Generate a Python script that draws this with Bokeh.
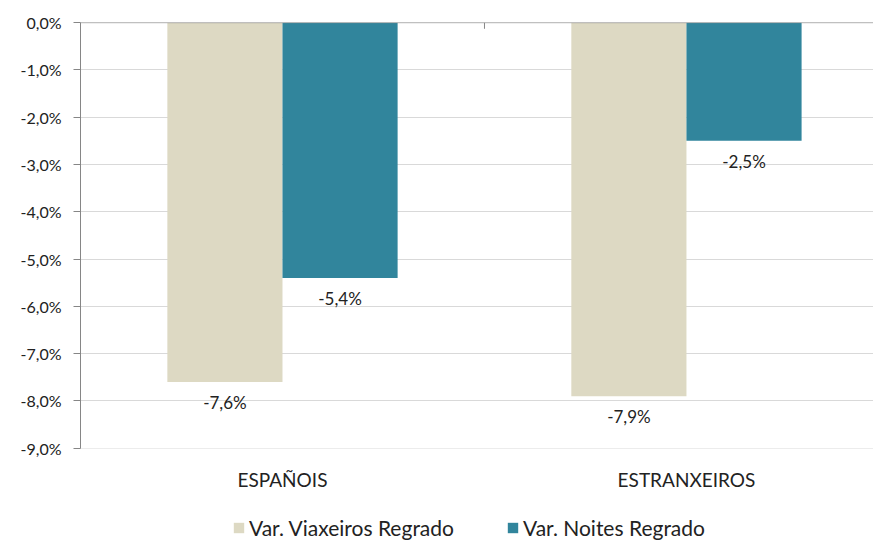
from bokeh.plotting import figure
from bokeh.layouts import column
from bokeh.models import (ColumnDataSource, Range1d, FixedTicker, Span,
                          Legend, LegendItem)
from bokeh.core.properties import value
from bokeh.embed import file_html
from bokeh.resources import INLINE

categories = ["ESPAÑOIS", "ESTRANXEIROS"]
series_names = ["Var. Viaxeiros Regrado", "Var. Noites Regrado"]
viaxeiros = [-7.6, -7.9]
noites = [-5.4, -2.5]
y_ticks = [0, -1, -2, -3, -4, -5, -6, -7, -8, -9]
colors = ["#DDD9C3", "#31859C"]

FONT = "Lato"
TXT = "#222222"
bar_w = 0.285

def fmt(v):
    return ("%.1f%%" % v).replace(".", ",")

centers = [i + 0.5 for i in range(len(categories))]

p = figure(width=873, height=505, output_backend="svg", toolbar_location=None,
           x_range=Range1d(0, 1.963), y_range=Range1d(-9.005, 0.003),
           min_border_left=80, min_border_right=0, min_border_top=22,
           min_border_bottom=57, outline_line_color=None)
p.background_fill_color = "white"
p.border_fill_color = "white"

# grid
p.xgrid.visible = False
p.ygrid.ticker = FixedTicker(ticks=y_ticks)
p.ygrid.grid_line_color = "#D9D9D9"
p.ygrid.grid_line_width = 1

for k, (vals, col) in enumerate(zip([viaxeiros, noites], colors)):
    xs = [c + (k - 0.5) * bar_w for c in centers]
    src = ColumnDataSource(dict(x=xs, top=vals, lab=[fmt(v) for v in vals]))
    p.vbar(x="x", top="top", bottom=0, width=bar_w, source=src,
           fill_color=col, line_color=None)
    p.text(x="x", y="top", text="lab", source=src, text_align="center",
           text_baseline="top", y_offset=10, text_font=value(FONT),
           text_font_size="17px", text_color=TXT)

# category axis line at zero with divider tick between categories
p.add_layout(Span(location=0, dimension="width", line_color="#868686", line_width=1))
div_x = [c + 0.5 for c in centers[:-1]]
p.segment(x0=div_x, x1=div_x, y0=[0] * len(div_x), y1=[-0.13] * len(div_x),
          line_color="#868686", line_width=1)

# y axis
p.yaxis.ticker = FixedTicker(ticks=y_ticks)
p.yaxis.major_label_overrides = {t: fmt(t) for t in y_ticks}
p.yaxis.axis_line_color = "#868686"
p.yaxis.major_tick_line_color = "#868686"
p.yaxis.major_tick_out = 7
p.yaxis.major_tick_in = 0
p.yaxis.minor_tick_line_color = None
p.yaxis.major_label_standoff = 12
p.yaxis.major_label_text_font = FONT
p.yaxis.major_label_text_font_size = "16px"
p.yaxis.major_label_text_color = TXT

# x axis labels (low position)
p.xaxis.ticker = FixedTicker(ticks=centers)
p.xaxis.major_label_overrides = {c: n for c, n in zip(centers, categories)}
p.xaxis.axis_line_color = None
p.xaxis.major_tick_line_color = None
p.xaxis.major_tick_out = 0
p.xaxis.major_tick_in = 0
p.xaxis.minor_tick_line_color = None
p.xaxis.major_label_standoff = 19
p.xaxis.major_label_text_font = FONT
p.xaxis.major_label_text_font_size = "19px"
p.xaxis.major_label_text_color = TXT

# legend strip (swatch renderers are hidden; legend shows them at full strength)
lf = figure(width=873, height=35, output_backend="svg", toolbar_location=None,
            x_range=Range1d(0, 1), y_range=Range1d(0, 1),
            x_axis_location=None, y_axis_location=None,
            min_border=0, outline_line_color=None)
lf.grid.visible = False
lf.border_fill_color = "white"
lf.background_fill_color = "white"
leg_renderers = []
for col in colors:
    r = lf.vbar(x=[0.5], top=[0.5], width=0.1, fill_color=col, line_color=None,
                visible=False)
    leg_renderers.append(r)
legend = Legend(items=[LegendItem(label=n, renderers=[r]) for n, r in zip(series_names, leg_renderers)],
                orientation="horizontal", location=(152, 0),
                label_text_font=FONT, label_text_font_size="21px",
                label_text_color=TXT, glyph_width=13, glyph_height=13,
                label_standoff=4, spacing=52, padding=0, margin=0,
                inactive_fill_alpha=0,
                border_line_color=None, background_fill_alpha=0)
lf.add_layout(legend)

layout = column(p, lf, spacing=0)
open("out.html", "w").write(file_html(layout, INLINE))
